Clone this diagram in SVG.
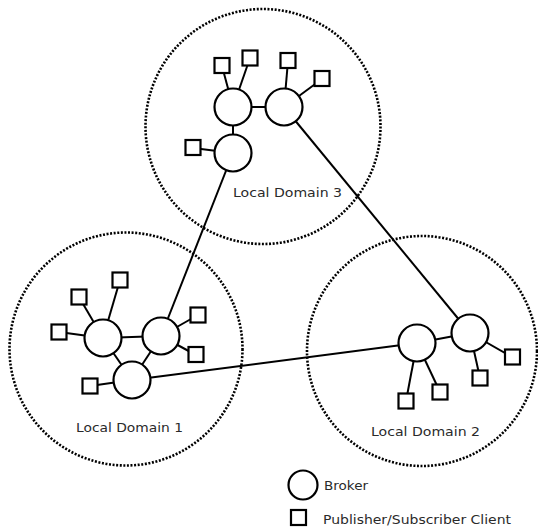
<svg xmlns="http://www.w3.org/2000/svg" width="538" height="529" viewBox="0 0 538 529">
<style>
.dom{fill:none;stroke:#000;stroke-width:2.6;stroke-dasharray:2 1.6}
.br{fill:#fff;stroke:#000;stroke-width:2.2}
.cl{fill:#fff;stroke:#000;stroke-width:2.2}
.ln{stroke:#000;stroke-width:2;fill:none}
text{font-family:"DejaVu Sans","Liberation Sans",sans-serif;font-size:13px;fill:#2a2a2a}
</style>
<rect width="538" height="529" fill="#fff"/>
<g id="domains">
<circle id="domain3" class="dom" cx="263" cy="126.5" r="117.5"/>
<circle id="domain1" class="dom" cx="126" cy="349" r="116.5"/>
<circle id="domain2" class="dom" cx="422" cy="351" r="115"/>
</g>
<g id="connectors">
<line class="ln" x1="233" y1="153" x2="161" y2="336"/>
<line class="ln" x1="284" y1="107" x2="470" y2="333"/>
<line class="ln" x1="132" y1="380" x2="417" y2="343"/>
<line class="ln" x1="233" y1="107" x2="284" y2="107"/>
<line class="ln" x1="233" y1="107" x2="233" y2="153"/>
<line class="ln" x1="233" y1="107" x2="222" y2="66"/>
<line class="ln" x1="233" y1="107" x2="250" y2="58"/>
<line class="ln" x1="284" y1="107" x2="288" y2="61"/>
<line class="ln" x1="284" y1="107" x2="322" y2="79"/>
<line class="ln" x1="233" y1="153" x2="193" y2="148"/>
<line class="ln" x1="103" y1="338" x2="161" y2="336"/>
<line class="ln" x1="103" y1="338" x2="132" y2="380"/>
<line class="ln" x1="161" y1="336" x2="132" y2="380"/>
<line class="ln" x1="103" y1="338" x2="120" y2="280"/>
<line class="ln" x1="103" y1="338" x2="79" y2="297"/>
<line class="ln" x1="103" y1="338" x2="59" y2="332"/>
<line class="ln" x1="161" y1="336" x2="198" y2="315"/>
<line class="ln" x1="161" y1="336" x2="196" y2="355"/>
<line class="ln" x1="132" y1="380" x2="90" y2="386"/>
<line class="ln" x1="417" y1="343" x2="470" y2="333"/>
<line class="ln" x1="417" y1="343" x2="406" y2="401"/>
<line class="ln" x1="417" y1="343" x2="440" y2="392"/>
<line class="ln" x1="470" y1="333" x2="480" y2="378"/>
<line class="ln" x1="470" y1="333" x2="512" y2="357"/>
</g>
<g id="broker3a"><circle class="br" cx="233" cy="107" r="18.5"/></g>
<g id="broker3b"><circle class="br" cx="284" cy="107" r="18.5"/></g>
<g id="broker3c"><circle class="br" cx="233" cy="153" r="18.5"/></g>
<g id="client3a"><rect class="cl" x="214.5" y="58" width="15" height="15"/></g>
<g id="client3b"><rect class="cl" x="242.5" y="50.5" width="15" height="15"/></g>
<g id="client3c"><rect class="cl" x="280.5" y="53" width="15" height="15"/></g>
<g id="client3d"><rect class="cl" x="314.5" y="71" width="15" height="15"/></g>
<g id="client3e"><rect class="cl" x="185.5" y="140" width="15" height="15"/></g>
<g id="broker1a"><circle class="br" cx="103" cy="338" r="18.5"/></g>
<g id="broker1b"><circle class="br" cx="161" cy="336" r="18.5"/></g>
<g id="broker1c"><circle class="br" cx="132" cy="380" r="18.5"/></g>
<g id="client1a"><rect class="cl" x="112.5" y="272.5" width="15" height="15"/></g>
<g id="client1b"><rect class="cl" x="71.5" y="289.5" width="15" height="15"/></g>
<g id="client1c"><rect class="cl" x="51.5" y="324.5" width="15" height="15"/></g>
<g id="client1d"><rect class="cl" x="190.5" y="307.5" width="15" height="15"/></g>
<g id="client1e"><rect class="cl" x="188.5" y="347" width="15" height="15"/></g>
<g id="client1f"><rect class="cl" x="82.5" y="378.5" width="15" height="15"/></g>
<g id="broker2a"><circle class="br" cx="417" cy="343" r="18.5"/></g>
<g id="broker2b"><circle class="br" cx="470" cy="333" r="18.5"/></g>
<g id="client2a"><rect class="cl" x="398.5" y="393.5" width="15" height="15"/></g>
<g id="client2b"><rect class="cl" x="432.5" y="384.5" width="15" height="15"/></g>
<g id="client2c"><rect class="cl" x="472.5" y="370.5" width="15" height="15"/></g>
<g id="client2d"><rect class="cl" x="505" y="349.5" width="15" height="15"/></g>
<g id="labels">
<text x="233" y="197" textLength="109" lengthAdjust="spacingAndGlyphs">Local Domain 3</text>
<text x="76" y="432" textLength="107" lengthAdjust="spacingAndGlyphs">Local Domain 1</text>
<text x="371" y="436" textLength="109" lengthAdjust="spacingAndGlyphs">Local Domain 2</text>
</g>
<g id="legend">
<circle class="br" cx="303" cy="485" r="14.5"/>
<text x="324" y="490" textLength="44" lengthAdjust="spacingAndGlyphs">Broker</text>
<rect class="cl" x="291" y="510" width="15" height="15"/>
<text x="323" y="524" textLength="188" lengthAdjust="spacingAndGlyphs">Publisher/Subscriber Client</text>
</g>
</svg>
